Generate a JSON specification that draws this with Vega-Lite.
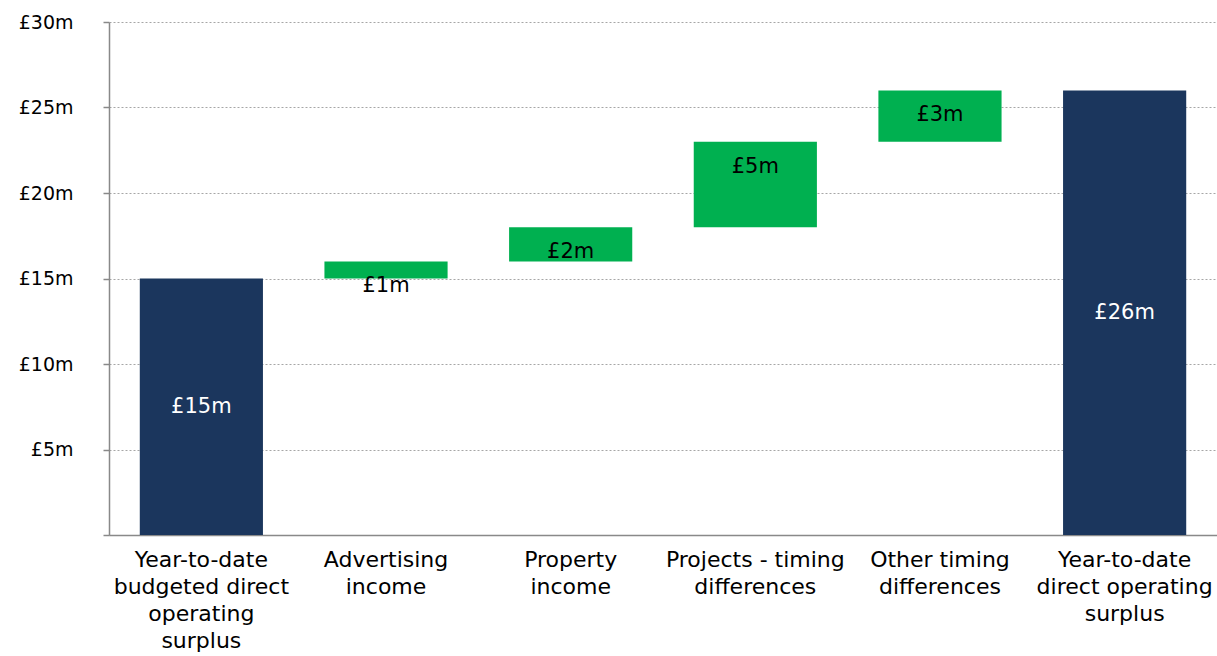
{
  "$schema": "https://vega.github.io/schema/vega-lite/v6.json",
  "width": 1108,
  "height": 513,
  "autosize": {"type": "none"},
  "padding": {"left": 109, "top": 22, "right": 0, "bottom": 121},
  "background": "white",
  "config": {"view": {"stroke": null}, "font": "DejaVu Sans"},
  "data": {
    "values": [
      {"category": "Year-to-date budgeted direct operating surplus", "start": 0, "end": 15, "label": "£15m", "kind": "total"},
      {"category": "Advertising income", "start": 15, "end": 16, "label": "£1m", "kind": "change"},
      {"category": "Property income", "start": 16, "end": 18, "label": "£2m", "kind": "change"},
      {"category": "Projects - timing differences", "start": 18, "end": 23, "label": "£5m", "kind": "change"},
      {"category": "Other timing differences", "start": 23, "end": 26, "label": "£3m", "kind": "change"},
      {"category": "Year-to-date direct operating surplus", "start": 0, "end": 26, "label": "£26m", "kind": "total"}
    ]
  },
  "encoding": {
    "x": {
      "field": "category",
      "type": "nominal",
      "sort": [
        "Year-to-date budgeted direct operating surplus",
        "Advertising income",
        "Property income",
        "Projects - timing differences",
        "Other timing differences",
        "Year-to-date direct operating surplus"
      ],
      "scale": {"paddingInner": 0.333, "paddingOuter": 0.1667},
      "axis": {
        "title": null,
        "labelAngle": 0,
        "ticks": false,
        "domainColor": "#898989",
        "domainWidth": 1.5,
        "labelFont": "DejaVu Sans",
        "labelFontSize": 22,
        "labelColor": "black",
        "labelLineHeight": 27,
        "labelPadding": 14,
        "labelLimit": 0,
        "labelBaseline": "top",
        "labelExpr": "datum.value=='Year-to-date budgeted direct operating surplus'?['Year-to-date','budgeted direct','operating','surplus']:datum.value=='Advertising income'?['Advertising','income']:datum.value=='Property income'?['Property','income']:datum.value=='Projects - timing differences'?['Projects - timing','differences']:datum.value=='Other timing differences'?['Other timing','differences']:['Year-to-date','direct operating','surplus']"
      }
    }
  },
  "layer": [
    {
      "mark": {"type": "bar"},
      "encoding": {
        "y": {
          "field": "start",
          "type": "quantitative",
          "scale": {"domain": [0, 30], "nice": false},
          "axis": {
            "title": null,
            "values": [0, 5, 10, 15, 20, 25, 30],
            "labelExpr": "datum.value==0?'':'£'+datum.value+'m'",
            "grid": true,
            "gridDash": [2, 2],
            "gridColor": "#a6a6a6",
            "gridWidth": 1,
            "domainColor": "#898989",
            "domainWidth": 1.5,
            "tickColor": "#898989",
            "tickSize": 6,
            "tickWidth": 1.5,
            "labelFont": "DejaVu Sans",
            "labelFontSize": 19,
            "labelColor": "black",
            "labelPadding": 30
          }
        },
        "y2": {"field": "end"},
        "color": {
          "field": "kind",
          "type": "nominal",
          "scale": {"domain": ["total", "change"], "range": ["#1b365d", "#00b050"]},
          "legend": null
        }
      }
    },
    {
      "transform": [{"filter": "datum.kind=='change'"}],
      "mark": {"type": "text", "dy": 25, "fontSize": 21, "color": "black", "font": "DejaVu Sans"},
      "encoding": {
        "y": {"field": "end", "type": "quantitative"},
        "text": {"field": "label"}
      }
    },
    {
      "transform": [
        {"filter": "datum.kind=='total'"},
        {"fold": ["start", "end"], "as": ["bound", "amount"]},
        {"aggregate": [{"op": "mean", "field": "amount", "as": "mid"}], "groupby": ["category", "label"]}
      ],
      "mark": {"type": "text", "fontSize": 21, "color": "white", "font": "DejaVu Sans"},
      "encoding": {
        "y": {"field": "mid", "type": "quantitative"},
        "text": {"field": "label"}
      }
    }
  ]
}
